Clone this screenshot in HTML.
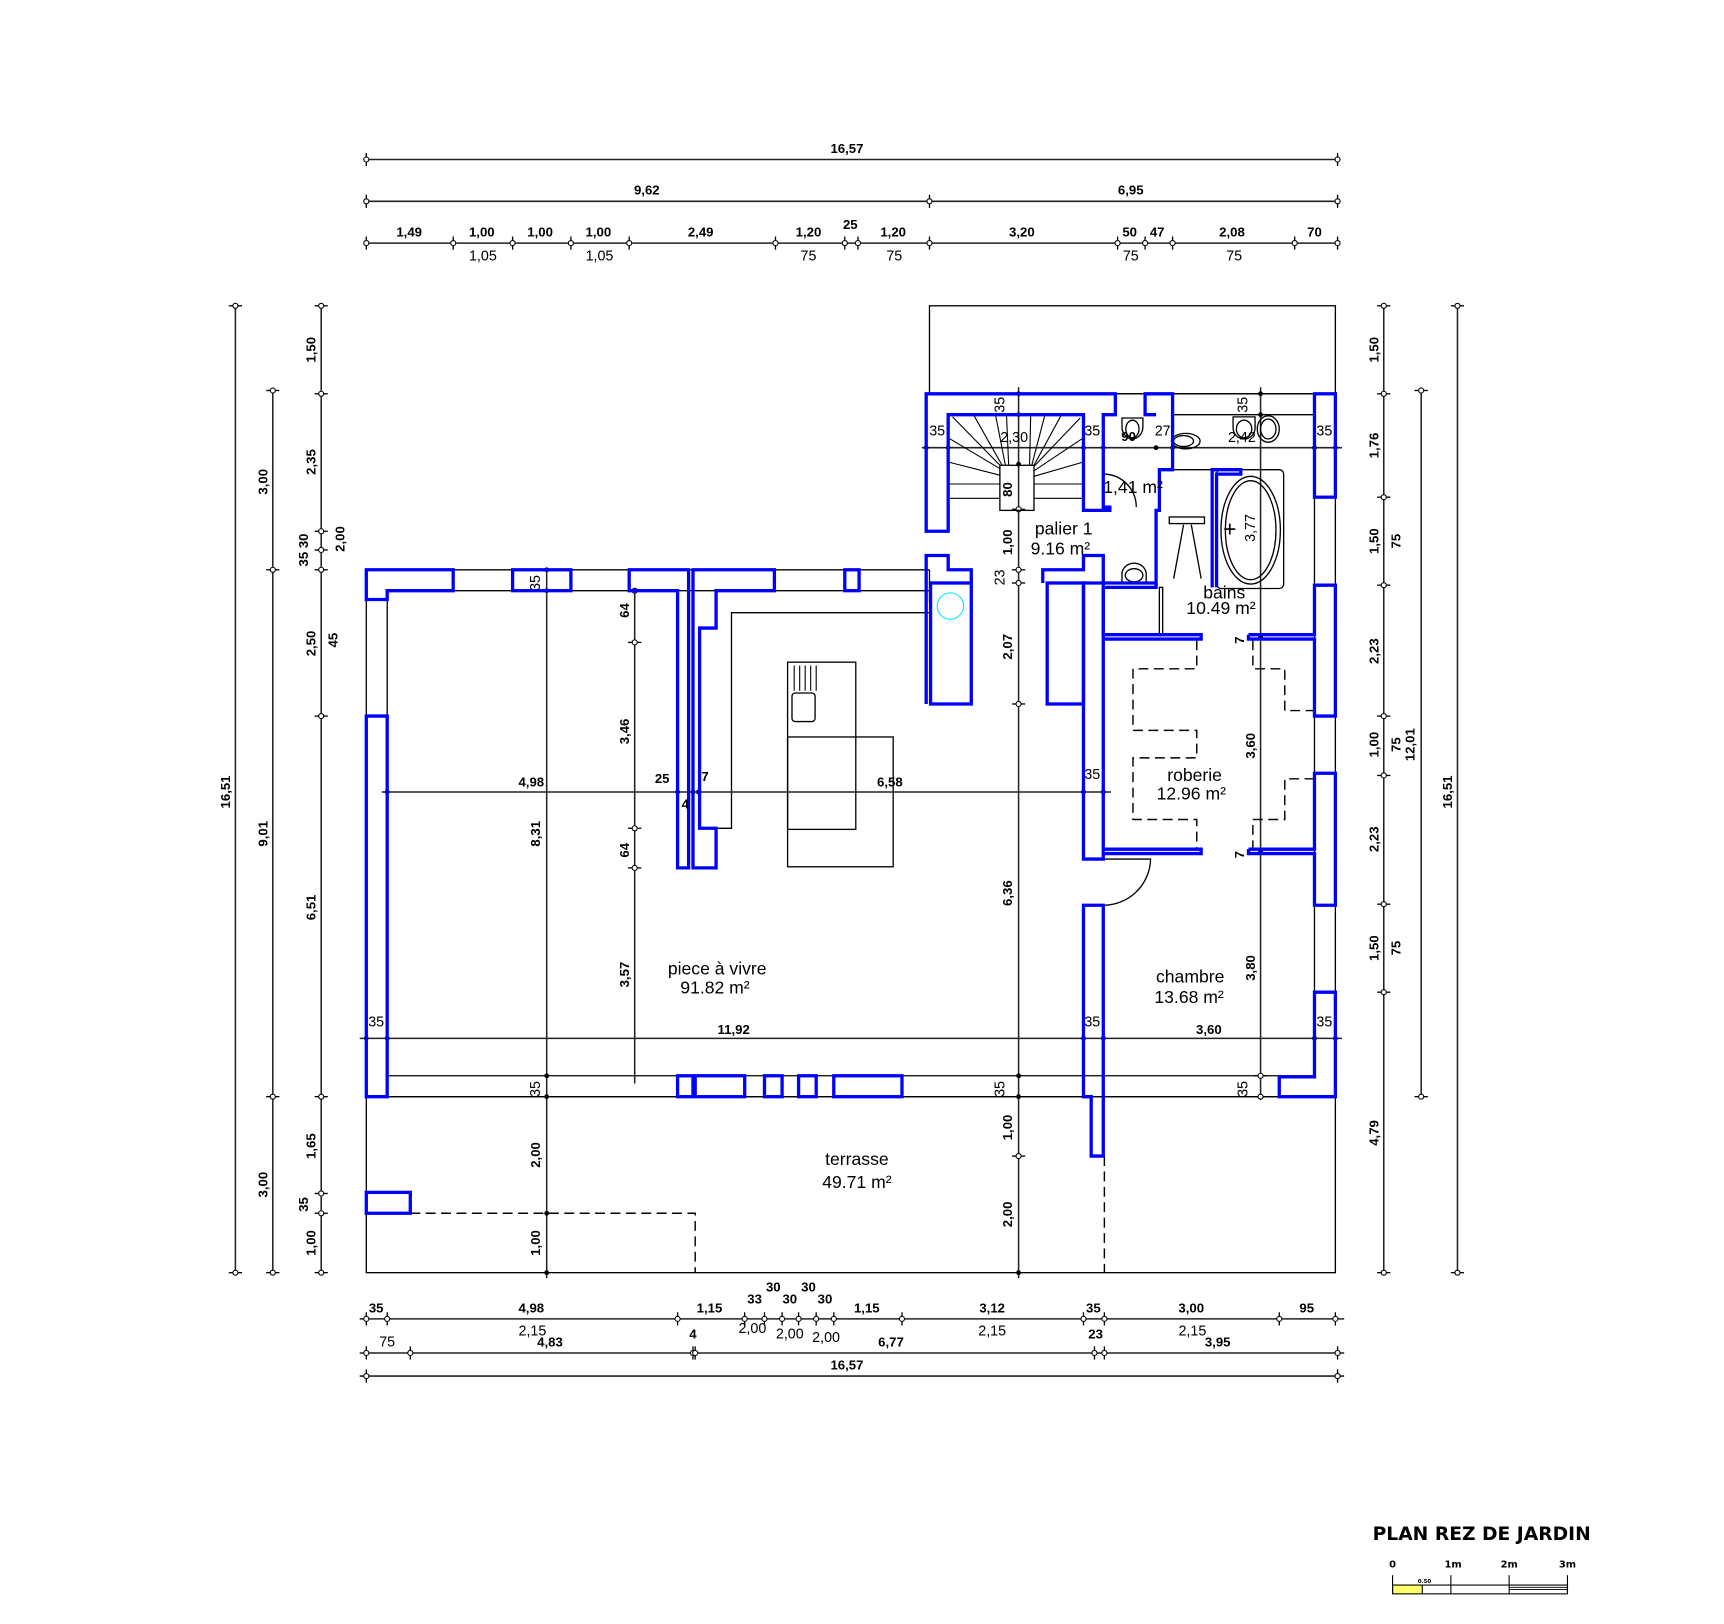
<!DOCTYPE html>
<html><head><meta charset="utf-8"><style>
html,body{margin:0;padding:0;background:#fff;}
svg{display:block;}
.d{font-family:"Liberation Sans Narrow","Liberation Sans",sans-serif;font-size:12px;font-weight:bold;fill:#000;}
.n{font-family:"Liberation Sans Narrow","Liberation Sans",sans-serif;font-size:13px;fill:#000;}
.r{font-family:"Liberation Sans",sans-serif;font-size:16px;fill:#000;}
.bl{fill:none;stroke:#0000ff;stroke-width:3;}
.k{fill:none;stroke:#000;stroke-width:1.2;}
.dl{fill:none;stroke:#222;stroke-width:1.4;}
.ds{fill:none;stroke:#000;stroke-width:1.3;stroke-dasharray:9 5;}
</style></head><body>
<svg width="1724" height="1624" viewBox="0 0 1567.3 1476.4" xmlns="http://www.w3.org/2000/svg">
<defs>
<g id="th"><line x1="0" y1="-6" x2="0" y2="6" stroke="#000" stroke-width="1.2"/><circle r="2.3" fill="#fff" stroke="#000" stroke-width="1"/></g>
<g id="tv"><line x1="-6" y1="0" x2="6" y2="0" stroke="#000" stroke-width="1.2"/><circle r="2.3" fill="#fff" stroke="#000" stroke-width="1"/></g>
<g id="dot"><circle r="2.2" fill="#000"/></g>
</defs>

<!-- TOP DIMENSIONS -->
<line class="dl" x1="333" y1="145" x2="1216" y2="145"/>
<use href="#th" x="333" y="145"/><use href="#th" x="1216" y="145"/>
<text class="d" x="770" y="139" text-anchor="middle">16,57</text>
<line class="dl" x1="333" y1="183" x2="1216" y2="183"/>
<use href="#th" x="333" y="183"/><use href="#th" x="845" y="183"/><use href="#th" x="1216" y="183"/>
<text class="d" x="588" y="177" text-anchor="middle">9,62</text>
<text class="d" x="1028" y="177" text-anchor="middle">6,95</text>
<line class="dl" x1="333" y1="221" x2="1216" y2="221"/>
<g>
<use href="#th" x="333" y="221"/><use href="#th" x="412" y="221"/><use href="#th" x="466" y="221"/><use href="#th" x="519" y="221"/><use href="#th" x="572" y="221"/><use href="#th" x="705" y="221"/><use href="#th" x="768" y="221"/><use href="#th" x="780" y="221"/><use href="#th" x="845" y="221"/><use href="#th" x="1016" y="221"/><use href="#th" x="1041" y="221"/><use href="#th" x="1066" y="221"/><use href="#th" x="1177" y="221"/><use href="#th" x="1216" y="221"/>
</g>
<g class="d" text-anchor="middle">
<text x="372" y="215">1,49</text><text x="438" y="215">1,00</text><text x="491" y="215">1,00</text><text x="544" y="215">1,00</text><text x="637" y="215">2,49</text><text x="735" y="215">1,20</text><text x="773" y="208">25</text><text x="812" y="215">1,20</text><text x="929" y="215">3,20</text><text x="1027" y="215">50</text><text x="1052" y="215">47</text><text x="1120" y="215">2,08</text><text x="1195" y="215">70</text>
</g>
<g class="n" text-anchor="middle">
<text x="439" y="237">1,05</text><text x="545" y="237">1,05</text><text x="735" y="237">75</text><text x="813" y="237">75</text><text x="1028" y="237">75</text><text x="1122" y="237">75</text>
</g>

<!-- LEFT DIMENSIONS -->
<line class="dl" x1="214" y1="278" x2="214" y2="1157"/>
<use href="#tv" x="214" y="278"/><use href="#tv" x="214" y="1157"/>
<line class="dl" x1="248" y1="355" x2="248" y2="1157"/>
<use href="#tv" x="248" y="355"/><use href="#tv" x="248" y="518"/><use href="#tv" x="248" y="997"/><use href="#tv" x="248" y="1157"/>
<line class="dl" x1="292" y1="278" x2="292" y2="1157"/>
<use href="#tv" x="292" y="278"/><use href="#tv" x="292" y="358"/><use href="#tv" x="292" y="483"/><use href="#tv" x="292" y="500"/><use href="#tv" x="292" y="518"/><use href="#tv" x="292" y="651"/><use href="#tv" x="292" y="997"/><use href="#tv" x="292" y="1085"/><use href="#tv" x="292" y="1103"/><use href="#tv" x="292" y="1157"/>
<g class="d" text-anchor="middle">
<text transform="translate(209,720) rotate(-90)">16,51</text>
<text transform="translate(243,438) rotate(-90)">3,00</text>
<text transform="translate(243,758) rotate(-90)">9,01</text>
<text transform="translate(243,1077) rotate(-90)">3,00</text>
<text transform="translate(287,318) rotate(-90)">1,50</text>
<text transform="translate(287,420) rotate(-90)">2,35</text>
<text transform="translate(280,500) rotate(-90)">35 30</text>
<text transform="translate(313,490) rotate(-90)">2,00</text>
<text transform="translate(287,585) rotate(-90)">2,50</text>
<text transform="translate(307,582) rotate(-90)">45</text>
<text transform="translate(287,825) rotate(-90)">6,51</text>
<text transform="translate(287,1042) rotate(-90)">1,65</text>
<text transform="translate(280,1095) rotate(-90)">35</text>
<text transform="translate(287,1130) rotate(-90)">1,00</text>
</g>

<!-- RIGHT DIMENSIONS -->
<line class="dl" x1="1258" y1="278" x2="1258" y2="1157"/>
<use href="#tv" x="1258" y="278"/><use href="#tv" x="1258" y="358"/><use href="#tv" x="1258" y="452"/><use href="#tv" x="1258" y="532"/><use href="#tv" x="1258" y="651"/><use href="#tv" x="1258" y="705"/><use href="#tv" x="1258" y="822"/><use href="#tv" x="1258" y="902"/><use href="#tv" x="1258" y="1157"/>
<line class="dl" x1="1292" y1="355" x2="1292" y2="997"/>
<use href="#tv" x="1292" y="355"/><use href="#tv" x="1292" y="997"/>
<line class="dl" x1="1325" y1="278" x2="1325" y2="1157"/>
<use href="#tv" x="1325" y="278"/><use href="#tv" x="1325" y="1157"/>
<g class="d" text-anchor="middle">
<text transform="translate(1253,318) rotate(-90)">1,50</text>
<text transform="translate(1253,405) rotate(-90)">1,76</text>
<text transform="translate(1253,492) rotate(-90)">1,50</text>
<text transform="translate(1253,592) rotate(-90)">2,23</text>
<text transform="translate(1253,677) rotate(-90)">1,00</text>
<text transform="translate(1253,763) rotate(-90)">2,23</text>
<text transform="translate(1253,862) rotate(-90)">1,50</text>
<text transform="translate(1253,1030) rotate(-90)">4,79</text>
<text transform="translate(1273,492) rotate(-90)">75</text>
<text transform="translate(1273,677) rotate(-90)">75</text>
<text transform="translate(1273,862) rotate(-90)">75</text>
<text transform="translate(1286,677) rotate(-90)">12,01</text>
<text transform="translate(1320,720) rotate(-90)">16,51</text>
</g>

<!-- BOTTOM DIMENSIONS -->
<line class="dl" x1="327" y1="1199" x2="1222" y2="1199"/>
<use href="#th" x="333" y="1199"/><use href="#th" x="352" y="1199"/><use href="#th" x="616" y="1199"/><use href="#th" x="677" y="1199"/><use href="#th" x="695" y="1199"/><use href="#th" x="711" y="1199"/><use href="#th" x="726" y="1199"/><use href="#th" x="742" y="1199"/><use href="#th" x="758" y="1199"/><use href="#th" x="820" y="1199"/><use href="#th" x="985" y="1199"/><use href="#th" x="1004" y="1199"/><use href="#th" x="1163" y="1199"/><use href="#th" x="1214" y="1199"/>
<line class="dl" x1="327" y1="1230" x2="1222" y2="1230"/>
<use href="#th" x="333" y="1230"/><use href="#th" x="373" y="1230"/><use href="#th" x="630" y="1230"/><use href="#th" x="632" y="1230"/><use href="#th" x="995" y="1230"/><use href="#th" x="1004" y="1230"/><use href="#th" x="1216" y="1230"/>
<line class="dl" x1="327" y1="1251" x2="1222" y2="1251"/>
<use href="#th" x="333" y="1251"/><use href="#th" x="1216" y="1251"/>
<g class="d" text-anchor="middle">
<text x="342" y="1193">35</text><text x="483" y="1193">4,98</text><text x="645" y="1193">1,15</text><text x="686" y="1185">33</text><text x="703" y="1174">30</text><text x="718" y="1185">30</text><text x="735" y="1174">30</text><text x="750" y="1185">30</text><text x="788" y="1193">1,15</text><text x="902" y="1193">3,12</text><text x="994" y="1193">35</text><text x="1083" y="1193">3,00</text><text x="1188" y="1193">95</text>
<text x="500" y="1224">4,83</text><text x="630" y="1217">4</text><text x="810" y="1224">6,77</text><text x="996" y="1217">23</text><text x="1107" y="1224">3,95</text>
<text x="770" y="1245">16,57</text>
</g>
<g class="n" text-anchor="middle">
<text x="352" y="1224">75</text><text x="484" y="1214">2,15</text><text x="684" y="1212">2,00</text><text x="718" y="1217">2,00</text><text x="751" y="1220">2,00</text><text x="902" y="1214">2,15</text><text x="1084" y="1214">2,15</text>
</g>

<!-- BLACK STRUCTURE LINES -->
<rect class="k" x="845" y="278" width="369" height="80"/>
<line class="k" x1="333" y1="518" x2="845" y2="518"/>
<line class="k" x1="352" y1="537" x2="845" y2="537"/>
<line class="k" x1="333" y1="545" x2="333" y2="651"/>
<line class="k" x1="352" y1="545" x2="352" y2="651"/>
<line class="k" x1="352" y1="978" x2="1195" y2="978"/>
<line class="k" x1="333" y1="997" x2="1214" y2="997"/>
<rect class="k" x="333" y="997" width="881" height="160"/>
<line class="k" x1="1195" y1="452" x2="1195" y2="902"/>
<line class="k" x1="1214" y1="452" x2="1214" y2="902"/>
<line class="k" x1="1066" y1="377" x2="1195" y2="377"/>
<line class="k" x1="845" y1="358" x2="1214" y2="358"/>
<!-- kitchen -->
<polyline class="k" points="648,753 665,753 665,557 845,557"/>
<line class="k" x1="845" y1="547" x2="845" y2="518"/>
<rect class="k" x="716" y="602" width="62" height="152"/>
<rect class="k" x="716" y="670" width="96" height="118"/>
<rect class="k" x="720" y="630" width="21" height="26" rx="3"/>
<g stroke="#000" stroke-width="1"><line x1="722" y1="605" x2="722" y2="628"/><line x1="727" y1="605" x2="727" y2="628"/><line x1="732" y1="605" x2="732" y2="628"/><line x1="737" y1="605" x2="737" y2="628"/><line x1="742" y1="605" x2="742" y2="628"/></g>

<!-- dimension lines inside -->
<line class="dl" x1="347" y1="720" x2="1010" y2="720"/>
<use href="#dot" x="352" y="720"/><use href="#dot" x="616" y="720"/><use href="#dot" x="630" y="720"/><use href="#dot" x="635" y="720"/><use href="#dot" x="985" y="720"/><use href="#dot" x="1003" y="720"/>
<line class="dl" x1="327" y1="944" x2="1220" y2="944"/>
<use href="#dot" x="333" y="944"/><use href="#dot" x="352" y="944"/><use href="#dot" x="985" y="944"/><use href="#dot" x="1003" y="944"/><use href="#dot" x="1195" y="944"/><use href="#dot" x="1214" y="944"/>
<line class="dl" x1="838" y1="407" x2="1220" y2="407"/>
<use href="#dot" x="842" y="407"/><use href="#dot" x="862" y="407"/><use href="#dot" x="985" y="407"/><use href="#dot" x="1003" y="407"/><use href="#dot" x="1051" y="407"/><use href="#dot" x="1066" y="407"/><use href="#dot" x="1195" y="407"/><use href="#dot" x="1214" y="407"/>
<line class="dl" x1="497" y1="518" x2="497" y2="1162"/>
<use href="#dot" x="497" y="518"/><use href="#dot" x="497" y="537"/><use href="#dot" x="497" y="978"/><use href="#dot" x="497" y="997"/><use href="#dot" x="497" y="1103"/><use href="#dot" x="497" y="1157"/>
<line class="dl" x1="577" y1="535" x2="577" y2="985"/>
<use href="#tv" x="577" y="537"/><use href="#tv" x="577" y="584"/><use href="#tv" x="577" y="753"/><use href="#tv" x="577" y="789"/>
<line class="dl" x1="926" y1="352" x2="926" y2="1162"/>
<use href="#dot" x="926" y="358"/><use href="#dot" x="926" y="377"/><use href="#dot" x="926" y="422"/><use href="#tv" x="926" y="463"/><use href="#tv" x="926" y="518"/><use href="#tv" x="926" y="530"/><use href="#tv" x="926" y="640"/><use href="#dot" x="926" y="978"/><use href="#dot" x="926" y="997"/><use href="#tv" x="926" y="1051"/><use href="#dot" x="926" y="1157"/>
<line class="dl" x1="1146" y1="352" x2="1146" y2="1000"/>
<use href="#dot" x="1146" y="358"/><use href="#dot" x="1146" y="377"/><use href="#dot" x="1146" y="579"/><use href="#dot" x="1146" y="774"/><use href="#tv" x="1146" y="978"/><use href="#tv" x="1146" y="997"/>

<!-- stairs -->
<rect class="k" x="909" y="423" width="31" height="41"/>
<g stroke="#000" stroke-width="1">
<line x1="909" y1="423" x2="866" y2="379"/><line x1="911" y1="423" x2="885" y2="377"/><line x1="914" y1="423" x2="905" y2="377"/><line x1="917" y1="423" x2="915" y2="377"/>
<line x1="909" y1="426" x2="862" y2="398"/><line x1="909" y1="432" x2="862" y2="420"/>
<line x1="936" y1="423" x2="937" y2="377"/><line x1="938" y1="423" x2="950" y2="377"/><line x1="940" y1="423" x2="965" y2="377"/><line x1="940" y1="424" x2="982" y2="380"/>
<line x1="940" y1="428" x2="985" y2="398"/><line x1="940" y1="433" x2="985" y2="420"/>
<line x1="862" y1="440" x2="909" y2="440"/><line x1="862" y1="453" x2="909" y2="453"/>
<line x1="940" y1="440" x2="985" y2="440"/><line x1="940" y1="453" x2="985" y2="453"/>
</g>

<!-- bathroom fixtures -->
<rect class="k" x="1106" y="427" width="61" height="108" rx="4"/>
<ellipse class="k" cx="1137" cy="482" rx="27" ry="49"/>
<ellipse class="k" cx="1137" cy="482" rx="23" ry="45"/>
<line x1="1113" y1="481" x2="1123" y2="481" stroke="#000" stroke-width="1.5"/><line x1="1118" y1="476" x2="1118" y2="486" stroke="#000" stroke-width="1.5"/>
<rect class="k" x="1063" y="470" width="32" height="6"/>
<line class="k" x1="1076" y1="477" x2="1067" y2="526"/><line class="k" x1="1083" y1="477" x2="1092" y2="526"/>
<rect class="k" x="1054" y="534" width="3" height="44"/>
<line class="k" x1="1066" y1="427" x2="1106" y2="427"/>
<g class="k">
<path d="M1020 380 h19 v8 a9.5 11 0 1 1 -19 0 z"/><ellipse cx="1029.5" cy="390" rx="6" ry="8"/>
<path d="M1020 530 v-8 a11 10 0 0 1 22 0 v8 z"/><ellipse cx="1031" cy="523" rx="8" ry="6"/>
<ellipse cx="1078" cy="401" rx="13" ry="7"/><ellipse cx="1076" cy="401" rx="9" ry="5"/>
<path d="M1121 379 h20 v10 a10 10 0 1 1 -20 0 z"/><ellipse cx="1131" cy="390" rx="7" ry="8"/>
<ellipse cx="1153" cy="390" rx="10" ry="12"/><ellipse cx="1153" cy="390" rx="7" ry="9"/>
</g>
<path class="k" d="M1003 461 V431 A30 30 0 0 1 1033 461"/>
<!-- door chambre -->
<path class="k" d="M1003 781 H1046 A43 43 0 0 1 1003 823"/>
<!-- cyan circle -->
<circle cx="864" cy="551" r="12" fill="none" stroke="#00e5ff" stroke-width="1"/>

<!-- dashed -->
<polyline class="ds" points="1088,582 1088,608 1030,608 1030,664 1088,664 1088,689 1030,689 1030,745 1088,745 1088,772"/>
<polyline class="ds" points="1139,582 1139,608 1168,608 1168,646 1195,646"/>
<polyline class="ds" points="1195,708 1168,708 1168,745 1139,745 1139,772"/>
<polyline class="ds" points="373,1103 632,1103 632,1157"/>
<line class="ds" x1="1004" y1="1051" x2="1004" y2="1157"/>

<!-- BLUE WALLS -->
<g class="bl">
<polygon points="333,518 412,518 412,537 352,537 352,545 333,545"/>
<rect x="466" y="518" width="53" height="19"/>
<polygon points="572,518 626,518 626,789 616,789 616,537 572,537"/>
<polygon points="630,518 704,518 704,537 651,537 651,571 636,571 636,753 651,753 651,789 630,789"/>
<rect x="768" y="518" width="13" height="19"/>
<polygon points="333,651 352,651 352,997 333,997"/>
<rect x="333" y="1084" width="40" height="19"/>
<rect x="616" y="978" width="14" height="19"/>
<rect x="632" y="978" width="45" height="19"/>
<rect x="695" y="978" width="16" height="19"/>
<rect x="726" y="978" width="16" height="19"/>
<rect x="758" y="978" width="62" height="19"/>
<polygon points="842,483 842,358 1014,358 1014,377 1003,377 1003,461 1009,461 1009,464 985,464 985,377 862,377 862,483"/>
<polyline points="842,640 842,505 862,505 862,518 883,518 883,530"/>
<rect x="846" y="530" width="37" height="110"/>
<polyline points="948,530 948,518 985,518 985,505 1003,505 1003,530 1051,530 1051,464 1054,464 1054,427 1066,427 1066,358 1041,358 1041,377 1051,377"/>
<rect x="952" y="530" width="33" height="110"/>
<polyline points="1102,534 1102,427 1128,427 1128,431 1106,431 1106,534"/>
<polyline points="1003,534 1051,534 1051,530"/>
<polyline points="1003,534 1003,577 1092,577 1092,581 1003,581"/>
<polyline points="1135,577 1195,577 1195,532 1214,532 1214,651 1195,651 1195,581 1135,581 1135,577"/>
<rect x="1195" y="358" width="19" height="94"/>
<polygon points="985,530 1003,530 1003,576 1003,781 985,781"/>
<polyline points="1003,772 1092,772 1092,776 1003,776"/>
<polyline points="1135,772 1195,772 1195,703 1214,703 1214,823 1195,823 1195,776 1135,776 1135,772"/>
<polygon points="985,823 1003,823 1003,1051 992,1051 992,997 985,997"/>
<polygon points="1195,902 1214,902 1214,997 1163,997 1163,979 1195,979"/>
</g>

<!-- INNER LABELS -->
<g class="n" text-anchor="middle">
<text transform="translate(491,530) rotate(-90)">35</text>
<text x="342" y="933">35</text>
<text transform="translate(491,990) rotate(-90)">35</text>
<text transform="translate(913,990) rotate(-90)">35</text>
<text transform="translate(1134,990) rotate(-90)">35</text>
<text x="993" y="933">35</text><text x="1204" y="933">35</text><text x="993" y="708">35</text>
<text x="852" y="396">35</text><text x="993" y="396">35</text><text x="1204" y="396">35</text>
<text transform="translate(913,368) rotate(-90)">35</text>
<text transform="translate(1134,368) rotate(-90)">35</text>
<text x="1057" y="396">27</text>
<text x="922" y="402">2,30</text>
<text transform="translate(1141,480) rotate(-90)">3,77</text>
<text x="1129" y="402">2,42</text>
<text transform="translate(913,525) rotate(-90)">23</text>
</g>
<g class="d" text-anchor="middle">
<text x="1026" y="401">90</text>
<text transform="translate(920,445) rotate(-90)">80</text>
<text transform="translate(920,493) rotate(-90)">1,00</text>
<text transform="translate(920,588) rotate(-90)">2,07</text>
<text transform="translate(920,812) rotate(-90)">6,36</text>
<text transform="translate(920,1025) rotate(-90)">1,00</text>
<text transform="translate(920,1104) rotate(-90)">2,00</text>
<text transform="translate(491,1050) rotate(-90)">2,00</text>
<text transform="translate(491,1130) rotate(-90)">1,00</text>
<text transform="translate(491,758) rotate(-90)">8,31</text>
<text transform="translate(572,555) rotate(-90)">64</text>
<text transform="translate(572,665) rotate(-90)">3,46</text>
<text transform="translate(572,773) rotate(-90)">64</text>
<text transform="translate(572,886) rotate(-90)">3,57</text>
<text x="483" y="715">4,98</text><text x="602" y="712">25</text><text x="641" y="710">7</text><text x="623" y="735">4</text><text x="809" y="715">6,58</text>
<text x="667" y="940">11,92</text><text x="1099" y="940">3,60</text>
<text transform="translate(1141,678) rotate(-90)">3,60</text>
<text transform="translate(1141,880) rotate(-90)">3,80</text>
<text transform="translate(1131,582) rotate(-90)">7</text>
<text transform="translate(1131,777) rotate(-90)">7</text>
</g>
<text class="r" x="1003" y="448" font-size="15">1,41 m²</text>

<!-- ROOM LABELS -->
<g class="r" text-anchor="middle">
<text x="967" y="486">palier 1</text><text x="964" y="504">9.16 m²</text>
<text x="1113" y="544">bains</text><text x="1110" y="558">10.49 m²</text>
<text x="1086" y="710">roberie</text><text x="1083" y="727">12.96 m²</text>
<text x="1082" y="893">chambre</text><text x="1081" y="912">13.68 m²</text>
<text x="652" y="886">piece à vivre</text><text x="650" y="903">91.82 m²</text>
<text x="779" y="1059">terrasse</text><text x="779" y="1080">49.71 m²</text>
</g>

<!-- TITLE & SCALE -->
<text x="1347" y="1400" text-anchor="middle" font-family="'DejaVu Sans','Liberation Sans',sans-serif" font-weight="bold" font-size="17" fill="#000">PLAN REZ DE JARDIN</text>
<g font-family="'DejaVu Sans','Liberation Sans',sans-serif" font-weight="bold" font-size="9" fill="#000" text-anchor="middle">
<text x="1266" y="1425">0</text><text x="1321" y="1425">1m</text><text x="1372" y="1425">2m</text><text x="1425" y="1425">3m</text>
<text x="1295" y="1439" font-size="5">0.50</text>
</g>
<rect x="1266" y="1441" width="27" height="8" fill="#ffff66"/>
<rect x="1266" y="1441" width="159" height="8" fill="none" stroke="#000" stroke-width="1"/>
<line x1="1372" y1="1445" x2="1425" y2="1445" stroke="#000" stroke-width="0.8"/>
<line x1="1372" y1="1443" x2="1425" y2="1443" stroke="#000" stroke-width="0.8"/>
<g stroke="#000" stroke-width="1"><line x1="1266" y1="1432" x2="1266" y2="1449"/><line x1="1319" y1="1432" x2="1319" y2="1449"/><line x1="1372" y1="1432" x2="1372" y2="1449"/><line x1="1425" y1="1432" x2="1425" y2="1449"/><line x1="1293" y1="1441" x2="1293" y2="1449"/></g>
</svg>
</body></html>
